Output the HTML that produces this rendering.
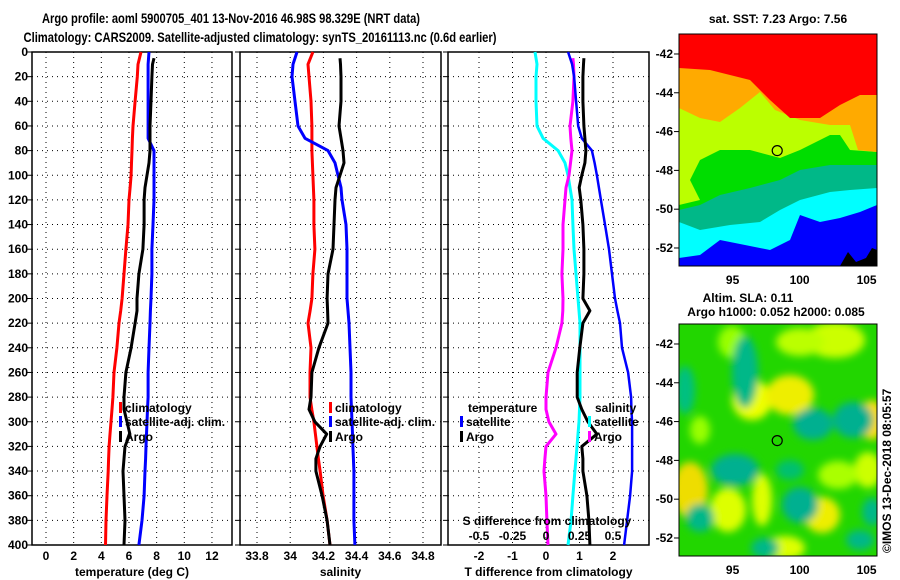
<!DOCTYPE html>
<html><head><meta charset="utf-8"><style>
html,body{margin:0;padding:0;background:#fff;width:900px;height:580px;overflow:hidden}
svg{display:block;font-family:"Liberation Sans",sans-serif}
.t{font-size:12px;font-weight:bold;fill:#000}
</style></head><body>
<svg id="c" width="900" height="580" viewBox="0 0 900 580" xmlns="http://www.w3.org/2000/svg">
<defs>
<clipPath id="m1"><rect x="679" y="34" width="198" height="232"/></clipPath>
<clipPath id="m2"><rect x="679" y="324" width="198" height="232"/></clipPath>
<filter id="bl" x="-50%" y="-50%" width="200%" height="200%"><feGaussianBlur stdDeviation="4"/></filter>
</defs>
<text x="231" y="23" text-anchor="middle" textLength="378" lengthAdjust="spacingAndGlyphs" style="font-size:14px;font-weight:bold">Argo profile: aoml 5900705_401 13-Nov-2016 46.98S 98.329E (NRT data)</text>
<text x="260" y="42" text-anchor="middle" textLength="473" lengthAdjust="spacingAndGlyphs" style="font-size:14px;font-weight:bold">Climatology: CARS2009. Satellite-adjusted climatology: synTS_20161113.nc (0.6d earlier)</text>
<g id="maps"></g>
<g id="plots"></g>
</svg>
<script>
// ---- data ----
const depths = [0,10,20,40,60,70,80,90,100,110,120,140,160,180,200,210,220,240,260,280,290,300,310,320,330,340,360,380,400];
const argoDepths = [5,10,20,40,60,70,80,90,100,110,120,140,160,180,200,210,220,240,260,280,290,300,310,320,330,340,360,380,400];
const climTemp = [6.87,6.65,6.6,6.44,6.29,6.25,6.22,6.18,6.15,6.08,6.0,5.93,5.78,5.64,5.5,5.4,5.28,5.13,4.92,4.84,4.77,4.7,4.63,4.56,4.53,4.5,4.41,4.34,4.3];
const satTemp = [7.45,7.38,7.38,7.38,7.38,7.38,7.81,7.81,7.81,7.81,7.81,7.74,7.66,7.66,7.59,7.55,7.52,7.45,7.38,7.38,7.34,7.3,7.27,7.23,7.2,7.16,7.09,6.94,6.72];
const argoTemp = [7.81,7.7,7.66,7.59,7.52,7.52,7.52,7.45,7.3,7.16,7.09,7.09,7.01,6.72,6.58,6.58,6.44,6.15,5.78,5.64,5.64,5.86,6.07,5.71,5.64,5.57,5.64,5.71,5.64];
const climSal = [34.137,34.107,34.113,34.125,34.131,34.131,34.131,34.134,34.137,34.14,34.143,34.143,34.149,34.137,34.131,34.12,34.107,34.125,34.119,34.119,34.13,34.143,34.152,34.161,34.17,34.18,34.198,34.222,34.24];
const satSal = [34.041,34.017,34.011,34.029,34.047,34.089,34.228,34.27,34.288,34.306,34.312,34.336,34.342,34.342,34.342,34.348,34.354,34.36,34.366,34.366,34.369,34.372,34.375,34.378,34.381,34.384,34.384,34.384,34.39];
const argoSal = [34.3,34.303,34.306,34.306,34.294,34.306,34.318,34.324,34.3,34.276,34.27,34.264,34.258,34.228,34.222,34.225,34.228,34.173,34.131,34.125,34.113,34.149,34.22,34.18,34.155,34.155,34.192,34.222,34.24];
const satTDiff = [0.66,0.78,0.84,0.9,0.96,1.07,1.37,1.45,1.52,1.58,1.64,1.76,1.88,1.97,2.06,2.13,2.21,2.27,2.45,2.54,2.55,2.57,2.57,2.57,2.57,2.57,2.51,2.42,2.33];
const argoTDiff = [1.13,1.12,1.1,1.1,1.13,1.16,1.19,1.16,1.07,0.99,1.04,1.1,1.13,1.13,1.1,1.31,1.1,1.01,0.93,0.93,1.07,1.25,1.52,1.07,1.1,1.1,1.22,1.28,1.31];
const satSDiff = [-0.082,-0.067,-0.075,-0.075,-0.067,-0.022,0.09,0.142,0.164,0.179,0.194,0.201,0.209,0.224,0.239,0.246,0.254,0.254,0.254,0.254,0.25,0.246,0.239,0.231,0.224,0.216,0.201,0.187,0.164];
const argoSDiff = [0.201,0.205,0.209,0.201,0.179,0.185,0.194,0.183,0.172,0.149,0.142,0.127,0.127,0.119,0.127,0.125,0.119,0.075,0.015,0,0,0.022,0.075,0,-0.008,-0.015,0,0.007,0.015];
const depthTicks = [0,20,40,60,80,100,120,140,160,180,200,220,240,260,280,300,320,340,360,380,400];
const tempTicks = [0,2,4,6,8,10,12];
const salTicks = [33.8,34,34.2,34.4,34.6,34.8];
const salTickLabels = ["33.8","34","34.2","34.4","34.6","34.8"];
const tdiffTicks = [-2,-1,0,1,2];
const sdiffTicks = [-0.5,-0.25,0,0.25,0.5];
const sdiffTickLabels = ["-0.5","-0.25","0","0.25","0.5"];
const latTicks = [-42,-44,-46,-48,-50,-52];
const lonTicks = [95,100,105];
const argoLon = 98.33, argoLat = -46.98;

// ---- scales ----
const yD = d => 52 + d * 493 / 400;
const xT = t => 46 + t * 13.83;
const xS = s => 257 + (s - 33.8) * 166;
const xTD = t => 546 + t * 33.5;
const xSD = s => 546 + s * 134;
const mapX = lon => 679 + (lon - 91) * 13.4;
const mapY1 = lat => 34 + (-40.97 - lat) * 19.4;
const mapY2 = lat => 324 + (-40.97 - lat) * 19.4;

const NS = "http://www.w3.org/2000/svg";
const plots = document.getElementById('plots');
const maps = document.getElementById('maps');
function mk(tag, attrs, parent) {
  const e = document.createElementNS(NS, tag);
  for (const k in attrs) e.setAttribute(k, attrs[k]);
  (parent || plots).appendChild(e);
  return e;
}
function txt(x, y, s, anchor, parent) {
  const e = mk('text', {x: x, y: y, class: 't', 'text-anchor': anchor || 'middle'}, parent);
  e.textContent = s;
  return e;
}

// ---- panels ----
const panels = [
  {l: 32, r: 232, name: 'temperature-panel', ticks: tempTicks, labels: tempTicks.map(String), fx: xT, title: 'temperature (deg C)'},
  {l: 240, r: 441, name: 'salinity-panel', ticks: salTicks, labels: salTickLabels, fx: xS, title: 'salinity'},
  {l: 448, r: 649, name: 'difference-panel', ticks: tdiffTicks, labels: tdiffTicks.map(String), fx: xTD, title: 'T difference from climatology'}
];
panels.forEach((p, pi) => {
  const g = mk('g', {});
  
  
  depthTicks.forEach(d => {
    const ln = mk('line', {x1: p.l, x2: p.r, y1: yD(d), y2: yD(d), stroke: '#000', 'stroke-width': 1, 'stroke-dasharray': '1,4'}, g);
    
    
    const tk = mk('line', {x1: p.l - 5, x2: p.l, y1: yD(d), y2: yD(d), stroke: '#000', 'stroke-width': 1}, g);
    
    
  });
  p.ticks.forEach((t, i) => {
    const x = p.fx(t);
    const ln = mk('line', {x1: x, x2: x, y1: 52, y2: 545, stroke: '#000', 'stroke-width': 1, 'stroke-dasharray': '1,4'}, g);
    
    
    const lb = txt(x, 560, p.labels[i], 'middle', g);
    
    
  });
  const fr = mk('rect', {x: p.l, y: 52, width: p.r - p.l, height: 493, fill: 'none', stroke: '#000', 'stroke-width': 1.5}, g);
  
  
  const at = txt((p.l + p.r) / 2, 576, p.title, 'middle', g);
  
  
});
depthTicks.forEach(d => {
  const lb = txt(28, yD(d) + 4, String(d), 'end');
  
  
});

function line(ds, vs, fx, color, w, name) {
  const pts = ds.map((d, i) => fx(vs[i]).toFixed(1) + ',' + yD(d).toFixed(1)).join(' ');
  const e = mk('polyline', {points: pts, fill: 'none', stroke: color, 'stroke-width': w, 'stroke-linejoin': 'round'});
  
  
}
line(depths, climTemp, xT, '#ff0000', 3, 'clim-temperature-line');
line(depths, satTemp, xT, '#0000ff', 3, 'sat-temperature-line');
line(argoDepths, argoTemp, xT, '#000', 3, 'argo-temperature-line');
line(depths, climSal, xS, '#ff0000', 3, 'clim-salinity-line');
line(depths, satSal, xS, '#0000ff', 3, 'sat-salinity-line');
line(argoDepths, argoSal, xS, '#000', 3, 'argo-salinity-line');
line(depths, satSDiff, xSD, '#00ffff', 3, 'sat-salinity-diff-line');
line(argoDepths, argoSDiff, xSD, '#ff00ff', 3, 'argo-salinity-diff-line');
line(depths, satTDiff, xTD, '#0000ff', 2.5, 'sat-temperature-diff-line');
line(argoDepths, argoTDiff, xTD, '#000', 3, 'argo-temperature-diff-line');

// legends
function legItem(mx, y, color, label, name) {
  const r = mk('rect', {x: mx, y: y - 10, width: 3, height: 11, fill: color});
  
  
  const t = txt(mx + 6, y, label, 'start');
  
  
}
legItem(119, 412, '#ff0000', 'climatology', 'legend-climatology');
legItem(119, 426, '#0000ff', 'satellite-adj. clim.', 'legend-satellite');
legItem(119, 441, '#000', 'Argo', 'legend-argo');
legItem(329, 412, '#ff0000', 'climatology', 'legend-climatology-s');
legItem(329, 426, '#0000ff', 'satellite-adj. clim.', 'legend-satellite-s');
legItem(329, 441, '#000', 'Argo', 'legend-argo-s');
const lt1 = txt(468, 412, 'temperature', 'start');


legItem(460, 426, '#0000ff', 'satellite', 'legend-t-satellite');
legItem(460, 441, '#000', 'Argo', 'legend-t-argo');
const lt2 = txt(595, 412, 'salinity', 'start');


legItem(588, 426, '#00ffff', 'satellite', 'legend-s-satellite');
legItem(588, 441, '#ff00ff', 'Argo', 'legend-s-argo');
const st = txt(547, 525, 'S difference from climatology', 'middle');


sdiffTicks.forEach((s, i) => {
  const t = txt(xSD(s), 540, sdiffTickLabels[i], 'middle');
  
  
});

// ---- maps ----
function poly(pts, color, clip, name) {
  const e = mk('polygon', {points: pts, fill: color, 'clip-path': 'url(#' + clip + ')'}, maps);
  
  
  return e;
}
const bg = mk('rect', {x: 679, y: 34, width: 198, height: 232, fill: '#0000ff'}, maps);


poly('679,34 877,34 877,205 860,212 840,218 820,222 800,215 790,240 770,250 745,245 720,240 700,255 679,258', '#00ffff', 'm1', 'sst-cyan-region');
poly('679,34 877,34 877,188 850,190 830,192 800,200 780,210 760,222 730,225 700,230 679,222', '#00b888', 'm1', 'sst-teal-region');
poly('679,34 877,34 877,165 830,165 800,170 780,180 750,188 720,195 700,205 679,210', '#00dd00', 'm1', 'sst-green-region');
poly('679,34 877,34 877,152 850,150 840,135 830,135 800,150 780,158 750,150 720,150 700,160 690,180 700,200 679,205', '#bbff00', 'm1', 'sst-yellow-region');
poly('679,34 877,34 877,152 858,150 850,125 830,125 800,120 775,110 760,92 740,108 720,122 700,118 679,108', '#ffaa00', 'm1', 'sst-orange-region');
poly('679,34 877,34 877,95 860,95 840,105 820,118 790,118 770,100 750,80 730,75 710,70 679,68', '#ff0000', 'm1', 'sst-red-region');
poly('840,266 848,252 856,262 866,258 872,248 877,250 877,266', '#000', 'm1', 'sst-black-region');

const bg2 = mk('rect', {x: 679, y: 324, width: 198, height: 232, fill: '#22d600'}, maps);


const blobs = [
  [752,400,20,20,'#eeff00'],[790,395,24,20,'#eeee00'],[835,340,30,18,'#ccff00'],[690,490,18,28,'#eedd00'],
  [728,510,18,22,'#ddff00'],[822,515,18,18,'#eeee00'],[868,470,14,18,'#ccff00'],[872,420,12,20,'#ffdd00'],
  [785,548,20,12,'#ddff00'],[732,342,14,16,'#99ff00'],[838,475,20,14,'#aaff00'],[762,500,10,26,'#ddff00'],
  [800,342,24,14,'#bbff00'],[700,430,10,14,'#99ff00'],
  [745,372,13,36,'#00b888'],[813,424,20,16,'#00b090'],[853,420,20,18,'#00b090'],[735,470,24,16,'#00b090'],
  [800,505,18,18,'#00b090'],[700,518,14,14,'#00b888'],[765,548,14,10,'#00b888'],[872,512,10,14,'#00b888'],
  [790,470,14,10,'#00c070'],[685,390,10,24,'#00c080'],[860,540,14,10,'#00b888']
];
const bg3 = mk('g', {filter: 'url(#bl)', 'clip-path': 'url(#m2)'}, maps);


blobs.forEach(b => {
  const e = mk('ellipse', {cx: b[0], cy: b[1], rx: b[2], ry: b[3], fill: b[4]}, bg3);
  
  
});
[[mapY1, 34, 'sst'], [mapY2, 324, 'sla']].forEach(([fy, top, nm]) => {
  const fr = mk('rect', {x: 679, y: top, width: 198, height: 232, fill: 'none', stroke: '#000', 'stroke-width': 1}, maps);
  
  
  latTicks.forEach(l => {
    const tk = mk('line', {x1: 674, x2: 679, y1: fy(l), y2: fy(l), stroke: '#000'}, maps);
    
    
    const t = txt(673, fy(l) + 4, String(l), 'end', maps);
    
    
  });
  lonTicks.forEach(l => {
    const t = txt(mapX(l), top + 250, String(l), 'middle', maps);
    
    
  });
  const c = mk('circle', {cx: mapX(argoLon), cy: fy(argoLat), r: 5, fill: 'none', stroke: '#000', 'stroke-width': 1.2}, maps);
  
  
});
const mt1 = txt(778, 23, 'sat. SST: 7.23 Argo: 7.56', 'middle', maps);


const mt2 = txt(748, 302, 'Altim. SLA: 0.11', 'middle', maps);


const mt3 = txt(776, 316, 'Argo h1000: 0.052 h2000: 0.085', 'middle', maps);


const cp = mk('text', {x: 0, y: 0, class: 't', 'text-anchor': 'start', transform: 'translate(891,553) rotate(-90)'}, maps);
cp.textContent = '©IMOS 13-Dec-2018 08:05:57';


</script>
</body></html>
